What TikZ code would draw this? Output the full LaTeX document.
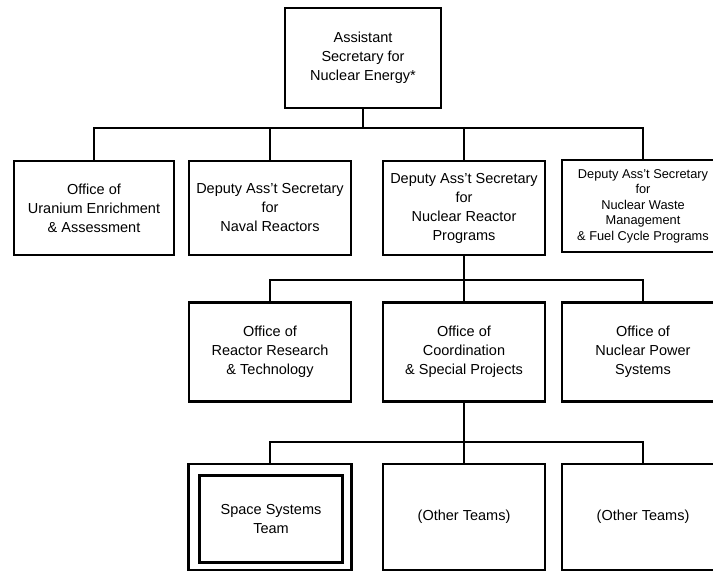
\documentclass[tikz,border=0pt]{standalone}
\usepackage{fontspec}
\setmainfont{Liberation Sans}
\usetikzlibrary{calc}
\tikzset{
	chart/box/.style={draw, line width=2.6pt, align=center, inner sep=1pt, minimum width=160pt, font=\fontsize{14.5}{19}\selectfont},
	chart/line/.style={line width=2.6pt}
}

\begin{document}
\begin{tikzpicture}[x=1pt, y=-1pt]

\useasboundingbox (0,0) rectangle (713,571);

\node[chart/box, minimum width=156pt, minimum height=100pt] (top) at (363,58) {Assistant\\Secretary for\\Nuclear Energy*};

\node[chart/box, minimum height=94pt] (uranium) at (94,208) {Office of\\Uranium Enrichment\\\& Assessment};
\node[chart/box, minimum width=162pt, minimum height=94pt] (naval) at (270,208) {Deputy Ass't Secretary\\for\\Naval Reactors};
\node[chart/box, minimum width=162pt, minimum height=94pt] (reactor) at (464,208) {Deputy Ass't Secretary\\for\\Nuclear Reactor\\Programs};
\node[chart/box, minimum width=162pt, minimum height=92pt, font=\fontsize{12.8}{15.5}\selectfont] (waste) at (643,206) {Deputy Ass't Secretary\\for\\Nuclear Waste\\Management\\\& Fuel Cycle Programs};

\node[chart/box, minimum width=162pt, minimum height=99pt] (research) at (270,352) {Office of\\Reactor Research\\\& Technology};
\node[chart/box, minimum width=162pt, minimum height=99pt] (coord) at (464,352) {Office of\\Coordination\\\& Special Projects};
\node[chart/box, minimum width=162pt, minimum height=99pt] (power) at (643,352) {Office of\\Nuclear Power\\Systems};

\node[chart/box, minimum width=163pt, minimum height=106pt] (space) at (270,517) {};
\node[chart/box, minimum width=143pt, minimum height=87pt] (spaceteam) at (271,519) {Space Systems\\Team};
\node[chart/box, minimum width=162pt, minimum height=106pt] (other1) at (464,517) {(Other Teams)};
\node[chart/box, minimum width=162pt, minimum height=106pt] (other2) at (643,517) {(Other Teams)};

\coordinate (bus1) at (363,128);
\coordinate (bus2) at (464,280);
\coordinate (bus3) at (464,442);

\draw[chart/line] (top.south) -- (bus1);
\draw[chart/line] (uranium.north) |- (bus1) -| (waste.north);
\draw[chart/line] (naval.north) -- (naval.north |- bus1);
\draw[chart/line] (reactor.north) -- (reactor.north |- bus1);

\draw[chart/line] (reactor.south) -- (coord.north);
\draw[chart/line] (research.north) |- (bus2) -| (power.north);

\draw[chart/line] (coord.south) -- (other1.north);
\draw[chart/line] (space.north) |- (bus3) -| (other2.north);

\end{tikzpicture}
\end{document}
